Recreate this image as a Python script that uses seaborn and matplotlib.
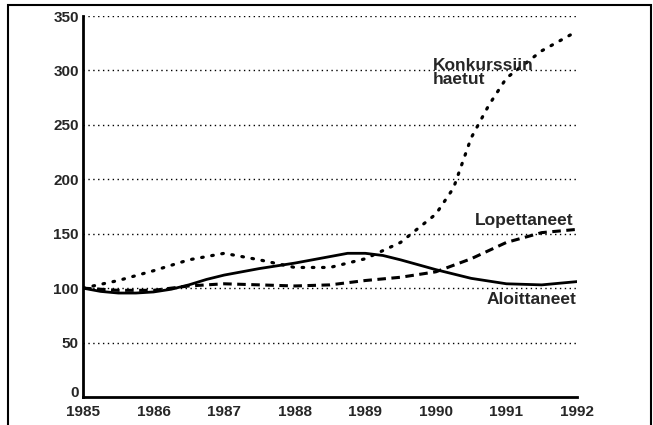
import pandas as pd
import matplotlib.pyplot as plt
from matplotlib.patches import Rectangle
import seaborn as sns

# luetut arvot (indeksi 1985 = 100)
vuodet_k = [1985, 1985.5, 1986, 1986.5, 1987, 1987.5, 1988, 1988.5, 1989, 1989.5,
            1990, 1990.25, 1990.5, 1990.75, 1991, 1991.5, 1992]
konkurssi = [100, 107, 116, 126, 132, 126, 119, 119, 127, 142,
             168, 192, 238, 268, 293, 318, 336]

vuodet_a = [1985, 1985.25, 1985.5, 1985.75, 1986, 1986.25, 1986.5, 1986.75, 1987, 1987.5,
            1988, 1988.5, 1988.75, 1989, 1989.25, 1989.5, 1990, 1990.5, 1991, 1991.5, 1992]
aloittaneet = [100, 97, 95.5, 95.5, 96.5, 99, 103, 108, 112, 118,
               123, 129, 132, 132, 130, 126, 117, 109, 104, 103, 106]

vuodet_l = [1985, 1985.5, 1986, 1986.5, 1987, 1987.5, 1988, 1988.5, 1989, 1989.5,
            1990, 1990.5, 1991, 1991.5, 1992]
lopettaneet = [100, 98, 98, 102, 104, 103, 102, 103, 107, 110,
               115, 127, 142, 151, 154]

x_ticks = [1985, 1986, 1987, 1988, 1989, 1990, 1991, 1992]
y_ticks = [0, 50, 100, 150, 200, 250, 300, 350]

sns.set_style('white')
plt.rcParams['font.family'] = ['Liberation Sans', 'DejaVu Sans']

fig = plt.figure(figsize=(6.53, 4.25), dpi=100)
ax = fig.add_axes([83 / 653, 28 / 425, 494 / 653, 381 / 425])

# vaakasuorat pisteviivat
for y in y_ticks[1:]:
    ax.axhline(y, color='black', lw=1.0, ls=(0, (1, 2.5)), zorder=1)

sns.lineplot(x=vuodet_a, y=aloittaneet, ax=ax, color='black', lw=2.0, zorder=3)
sns.lineplot(x=vuodet_l, y=lopettaneet, ax=ax, color='black', lw=2.2, zorder=3)
ax.lines[-1].set_linestyle((0, (2.8, 1.8)))
sns.lineplot(x=vuodet_k, y=konkurssi, ax=ax, color='black', lw=2.3, zorder=3)
ax.lines[-1].set_linestyle((0, (0.5, 2.7)))
ax.lines[-1].set_dash_capstyle('round')

ax.set_xlim(1985, 1992)
ax.set_ylim(0, 350)
ax.set_xticks(x_ticks)
ax.set_yticks(y_ticks)
ax.tick_params(axis='y', length=0, labelsize=11, pad=3)
ax.tick_params(axis='x', length=0, labelsize=11, pad=6)
for lab in ax.get_xticklabels() + ax.get_yticklabels():
    lab.set_fontweight('bold')
ax.get_yticklabels()[0].set_va('baseline')
ax.set_xlabel('')
ax.set_ylabel('')

for s in ['top', 'right']:
    ax.spines[s].set_visible(False)
ax.spines['left'].set_linewidth(2)
ax.spines['bottom'].set_linewidth(2)
ax.spines['left'].set_color('black')
ax.spines['bottom'].set_color('black')

ax.text(1989.96, 298, 'Konkurssiin\nhaetut', fontsize=12.5, fontweight='bold',
        va='center', ha='left', linespacing=0.95)
ax.text(1990.55, 162, 'Lopettaneet', fontsize=12.5, fontweight='bold', va='center')
ax.text(1990.72, 90, 'Aloittaneet', fontsize=12.5, fontweight='bold', va='center')

# kehys koko kuvan ympärillä
fig.patches.append(Rectangle((8 / 653, -0.02), 643 / 653, 1 - 5 / 425 + 0.02,
                             transform=fig.transFigure, fill=False,
                             edgecolor='black', lw=1.5))

plt.savefig('out.png', dpi=100)
